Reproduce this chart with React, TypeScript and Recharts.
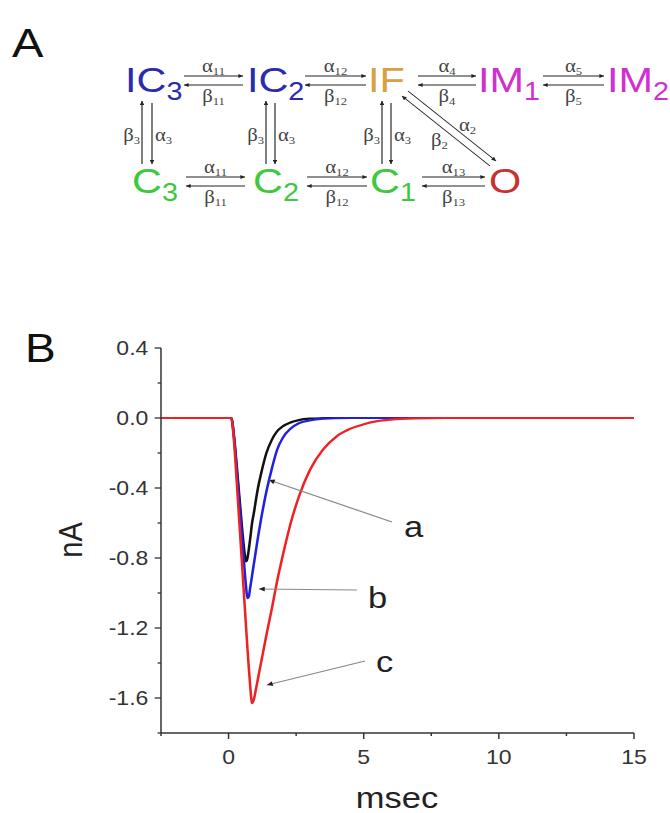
import React from "react";
import { LineChart, Line, XAxis, YAxis } from "recharts";

// time axis (msec) and the three simulated currents (nA)
const TIME = [-2.5, 0, 0.1, 0.2, 0.3, 0.4, 0.5, 0.6, 0.65, 0.7, 0.75, 0.8, 0.87, 0.95, 1.0, 1.1, 1.2, 1.4, 1.6, 1.8, 2.0, 2.3, 2.6, 3.0, 3.5, 4.0, 4.5, 5.0, 5.5, 6.0, 7.0, 8.0, 10, 15];
const CURRENT_A = [0, 0, 0, -0.1, -0.27, -0.45, -0.63, -0.78, -0.82, -0.8, -0.75, -0.69, -0.6, -0.53, -0.48, -0.39, -0.32, -0.2, -0.125, -0.075, -0.048, -0.025, -0.012, -0.004, -0.001, 0, 0, 0, 0, 0, 0, 0, 0, 0];
const CURRENT_B = [0, 0, 0, -0.11, -0.29, -0.48, -0.68, -0.88, -0.97, -1.03, -1.02, -0.97, -0.9, -0.82, -0.77, -0.67, -0.58, -0.42, -0.29, -0.18, -0.115, -0.06, -0.03, -0.014, -0.004, -0.001, 0, 0, 0, 0, 0, 0, 0, 0];
const CURRENT_C = [0, 0, 0, -0.13, -0.36, -0.6, -0.84, -1.08, -1.2, -1.32, -1.43, -1.53, -1.63, -1.6, -1.56, -1.48, -1.4, -1.24, -1.09, -0.93, -0.79, -0.6, -0.45, -0.3, -0.18, -0.105, -0.062, -0.036, -0.018, -0.009, -0.002, 0, 0, 0];

const X_TICKS = [-2.5, 0, 2.5, 5, 7.5, 10, 12.5, 15];
const Y_TICKS = [0.4, 0.2, 0, -0.2, -0.4, -0.6, -0.8, -1.0, -1.2, -1.4, -1.6, -1.8];

const data = TIME.map((t, i) => ({ t, a: CURRENT_A[i], b: CURRENT_B[i], c: CURRENT_C[i] }));

// the original figure is stretched horizontally
const S = 1.15;
const W = 670 / S;
const H = 813;
const X = (px: number) => px / S;

const SANS = "Liberation Sans, Arial, sans-serif";
const SERIF = "Liberation Serif, Times New Roman, serif";
const AXIS = "#333";

const BLUE = "#2b2bab";
const ORANGE = "#d9a040";
const MAGENTA = "#cf30cf";
const GREEN = "#3ec83e";
const RED = "#c93030";

const YTick = (props: any) => {
  const { x, y, payload } = props;
  const v = payload.value;
  const major = Math.abs(Math.round(v * 10)) % 4 === 0;
  return (
    <g>
      <line x1={x - (major ? 5.5 : 3)} x2={x} y1={y} y2={y} stroke={AXIS} strokeWidth={1.3} />
      {major && (
        <text x={x - 11} y={y + 7} textAnchor="end" fontSize={20} fontFamily={SANS} fill={AXIS}>
          {v.toFixed(1)}
        </text>
      )}
    </g>
  );
};

const XTick = (props: any) => {
  const { x, y, payload } = props;
  const v = payload.value;
  const major = v % 5 === 0;
  return (
    <g>
      <line x1={x} x2={x} y1={y} y2={y + (major ? 6 : 3)} stroke={AXIS} strokeWidth={1.3} />
      {major && (
        <text x={x} y={y + 31} textAnchor="middle" fontSize={20} fontFamily={SANS} fill={AXIS}>
          {v}
        </text>
      )}
    </g>
  );
};

const State = ({ x, y, label, sub, color }: any) => (
  <text x={X(x)} y={y} fill={color} fontSize={36} fontFamily={SANS}>
    {label}
    {sub && (
      <tspan fontSize={25} dy={8}>
        {sub}
      </tspan>
    )}
  </text>
);

const Rate = ({ x, y, g, sub, anchor = "middle" }: any) => (
  <text x={X(x)} y={y} textAnchor={anchor} fontSize={18} fontFamily={SERIF} fill="#444">
    {g}
    <tspan fontSize={11} dy={3}>
      {sub}
    </tspan>
  </text>
);

const ARROW = "#222";

const HPair = ({ x1, x2, base, a, b }: any) => (
  <g>
    <line x1={X(x1)} y1={base - 16} x2={X(x2)} y2={base - 16} stroke={ARROW} strokeWidth={1} markerEnd="url(#ah)" />
    <line x1={X(x2)} y1={base - 7} x2={X(x1)} y2={base - 7} stroke={ARROW} strokeWidth={1} markerEnd="url(#ah)" />
    <Rate x={(x1 + x2) / 2} y={base - 20} g="α" sub={a} />
    <Rate x={(x1 + x2) / 2} y={base + 10} g="β" sub={b} />
  </g>
);

const VPair = ({ xu, xd }: any) => (
  <g>
    <line x1={X(xu)} y1={164} x2={X(xu)} y2={101} stroke={ARROW} strokeWidth={1} markerEnd="url(#ah)" />
    <line x1={X(xd)} y1={103} x2={X(xd)} y2={164} stroke={ARROW} strokeWidth={1} markerEnd="url(#ah)" />
    <Rate x={xu - 2} y={141} g="β" sub="3" anchor="end" />
    <Rate x={xd + 3} y={141} g="α" sub="3" anchor="start" />
  </g>
);

const Pointer = ({ from, to }: any) => (
  <line x1={X(from[0])} y1={from[1]} x2={X(to[0])} y2={to[1]} stroke="#888" strokeWidth={1.2} markerEnd="url(#ah2)" />
);

export default function App() {
  return (
    <div style={{ position: "absolute", left: 0, top: 0, width: 670, height: H, overflow: "hidden", background: "#fff" }}>
      <div style={{ position: "absolute", left: 0, top: 0, width: W, height: H, transform: `scaleX(${S})`, transformOrigin: "0 0" }}>
        <div style={{ position: "absolute", left: 0, top: 0 }}>
          <LineChart width={W} height={H} data={data} margin={{ top: 348, right: W - X(634), bottom: 40, left: X(161) - 60 }}>
            <XAxis
              type="number"
              dataKey="t"
              domain={[-2.5, 15]}
              ticks={X_TICKS}
              interval={0}
              height={40}
              tickSize={0}
              tickMargin={0}
              tickLine={false}
              tick={<XTick />}
              axisLine={{ stroke: AXIS, strokeWidth: 1.3 }}
            />
            <YAxis
              type="number"
              domain={[-1.8, 0.4]}
              ticks={Y_TICKS}
              interval={0}
              width={60}
              tickSize={0}
              tickMargin={0}
              tickLine={false}
              tick={<YTick />}
              axisLine={{ stroke: AXIS, strokeWidth: 1.3 }}
            />
            <Line type="monotone" dataKey="a" stroke="#111" strokeWidth={2.2} dot={false} isAnimationActive={false} />
            <Line type="monotone" dataKey="b" stroke="#2020e0" strokeWidth={2.2} dot={false} isAnimationActive={false} />
            <Line type="monotone" dataKey="c" stroke="#ee2222" strokeWidth={2.2} dot={false} isAnimationActive={false} />
          </LineChart>
        </div>
        <svg width={W} height={H} style={{ position: "absolute", left: 0, top: 0, pointerEvents: "none" }}>
          <defs>
            <marker id="ah" viewBox="0 0 10 10" refX={10} refY={5} markerWidth={7} markerHeight={4} markerUnits="userSpaceOnUse" orient="auto">
              <path d="M0,0 L10,5 L0,10 z" fill={ARROW} />
            </marker>
            <marker id="ah2" viewBox="0 0 10 10" refX={10} refY={5} markerWidth={7} markerHeight={5} markerUnits="userSpaceOnUse" orient="auto">
              <path d="M0,0 L10,5 L0,10 z" fill="#222" />
            </marker>
          </defs>

          {/* panel A: gating scheme */}
          <text x={X(12)} y={57} fontSize={41} fontFamily={SANS} fill="#111">A</text>
          <State x={125} y={92} label="IC" sub="3" color={BLUE} />
          <State x={247} y={92} label="IC" sub="2" color={BLUE} />
          <State x={368} y={92} label="IF" color={ORANGE} />
          <State x={478} y={92} label="IM" sub="1" color={MAGENTA} />
          <State x={607} y={92} label="IM" sub="2" color={MAGENTA} />
          <State x={132} y={193} label="C" sub="3" color={GREEN} />
          <State x={253} y={193} label="C" sub="2" color={GREEN} />
          <State x={370} y={193} label="C" sub="1" color={GREEN} />
          <State x={489} y={193} label="O" color={RED} />

          <HPair x1={184} x2={243} base={92} a="11" b="11" />
          <HPair x1={305} x2={366} base={92} a="12" b="12" />
          <HPair x1={418} x2={476} base={92} a="4" b="4" />
          <HPair x1={543} x2={604} base={92} a="5" b="5" />
          <HPair x1={186} x2={245} base={193} a="11" b="11" />
          <HPair x1={307} x2={367} base={193} a="12" b="12" />
          <HPair x1={422} x2={485} base={193} a="13" b="13" />

          <VPair xu={142} xd={152} />
          <VPair xu={266} xd={275} />
          <VPair xu={382} xd={391} />

          <line x1={X(408)} y1={91} x2={X(496)} y2={161} stroke={ARROW} strokeWidth={1} markerEnd="url(#ah)" />
          <line x1={X(490)} y1={166} x2={X(402)} y2={96} stroke={ARROW} strokeWidth={1} markerEnd="url(#ah)" />
          <Rate x={459} y={131} g="α" sub="2" anchor="start" />
          <Rate x={431} y={146} g="β" sub="2" anchor="start" />

          {/* panel B annotations */}
          <text x={X(25)} y={362} fontSize={40} fontFamily={SANS} fill="#111">B</text>
          <text x={X(71)} y={540} fontSize={29} fontFamily={SANS} fill="#222" textAnchor="middle" dominantBaseline="central" transform={`rotate(-90 ${X(71)} 540)`}>nA</text>
          <text x={X(397)} y={808} fontSize={30} fontFamily={SANS} fill="#222" textAnchor="middle">msec</text>

          <Pointer from={[392, 522]} to={[269, 480]} />
          <Pointer from={[357, 590]} to={[259, 589]} />
          <Pointer from={[365, 661]} to={[267, 685]} />
          <text x={X(404)} y={537} fontSize={30} fontFamily={SANS} fill="#222">a</text>
          <text x={X(368)} y={608} fontSize={30} fontFamily={SANS} fill="#222">b</text>
          <text x={X(376)} y={672} fontSize={30} fontFamily={SANS} fill="#222">c</text>
        </svg>
      </div>
    </div>
  );
}
